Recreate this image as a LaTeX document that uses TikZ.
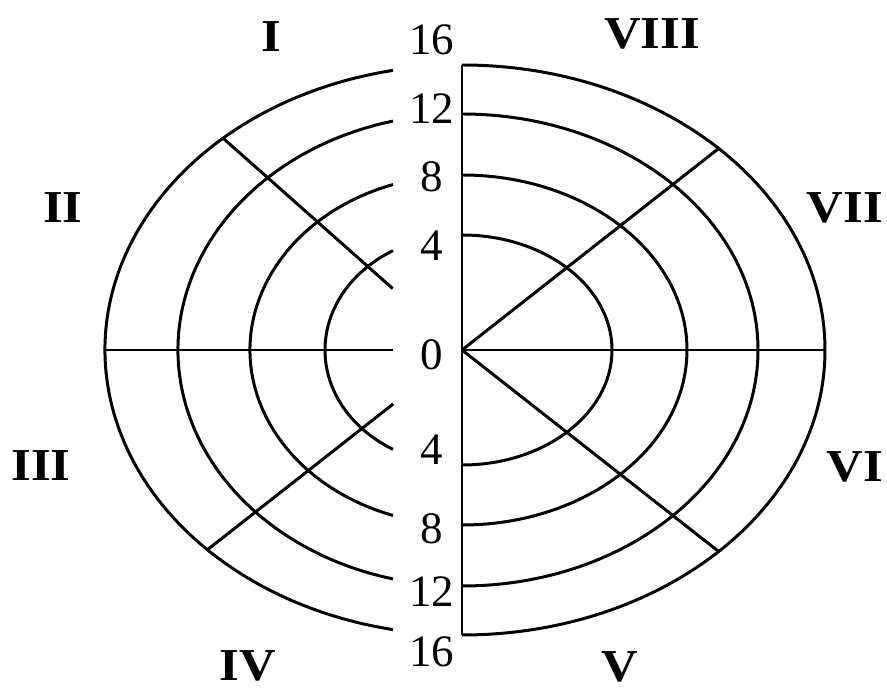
\documentclass[tikz,border=0pt]{standalone}
\usepackage{fontspec}
\setmainfont{Liberation Serif}
\usepackage{tikz}
\usetikzlibrary{calc}

\newcommand\sectorlab[1]{\scalebox{1.11}[1]{#1}}

\begin{document}
\begin{tikzpicture}[x=0.2mm,y=0.2mm,line width=1.7pt,
    num/.style={font=\fontsize{25.6}{26}\selectfont},
    sector/.style={font=\bfseries\fontsize{26}{26}\selectfont, inner sep=0.5pt}]
    \useasboundingbox (-462,-341) rectangle (425,350);
    \coordinate (O) at (0,0);
    % rings: level / right x radius / left x radius / y radius
    \foreach \k/\rr/\rl/\ry in {4/150/137/115, 8/225/212/175,
                                12/296/284/236, 16/363/357/285}{
      \draw (0,\ry) arc[start angle=90, end angle=-90,
                        x radius=\rr, y radius=\ry];
      % left halves stop short of the scale
      \pgfmathsetmacro\t{acos(-69/\rl)}
      \draw ({\rl*cos(\t)},{\ry*sin(\t)}) arc[start angle=\t,
            end angle={360-\t}, x radius=\rl, y radius=\ry];
    }
    % axes
    \draw (0,285) -- (0,-285);
    \draw (O) -- (363,0);
    \draw (-357,0) -- (-69,0);
    % sector borders
    \coordinate (ur) at (45:363 and 285);
    \coordinate (lr) at (-45:363 and 285);
    \coordinate (ul) at (132:357 and 285);
    \coordinate (ll) at (224.5:357 and 285);
    \draw (O) -- (ur);
    \draw (O) -- (lr);
    \draw ($(O)!0.29!(ul)$) -- (ul);
    \draw ($(O)!0.27!(ll)$) -- (ll);
    % scale
    \node[num] (t16) at (-30,310) {16};
    \node[num] (t12) at (-30,241) {12};
    \node[num] (t8)  at (-30,173) {8};
    \node[num] (t4)  at (-30,104) {4};
    \node[num] (z0)  at (-30,-5)  {0};
    \node[num] (b4)  at (-30,-100) {4};
    \node[num] (b8)  at (-30,-179) {8};
    \node[num] (b12) at (-30,-242) {12};
    \node[num] (b16) at (-30,-302) {16};
    % sector numbers
    \node[sector] (s1) at (-191,313) {\sectorlab{I}};
    \node[sector] (s2) at (-399,142) {\sectorlab{II}};
    \node[sector] (s3) at (-421,-116) {\sectorlab{III}};
    \node[sector] (s4) at (-214,-316) {\sectorlab{IV}};
    \node[sector] (s5) at (158,-317) {\sectorlab{V}};
    \node[sector] (s6) at (393,-117) {\sectorlab{VI}};
    \node[sector] (s7) at (383,142) {\sectorlab{VII}};
    \node[sector] (s8) at (190,316) {\sectorlab{VIII}};
  \end{tikzpicture}
\end{document}
